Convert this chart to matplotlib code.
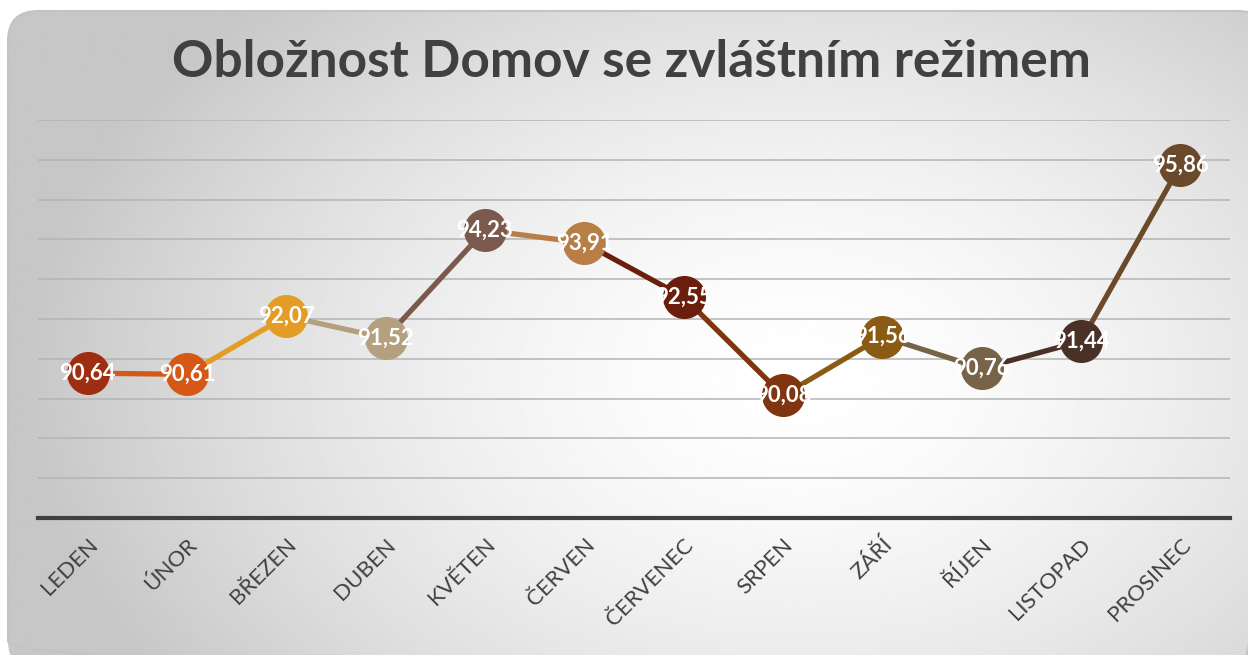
import numpy as np
import matplotlib
matplotlib.use("Agg")
import matplotlib.pyplot as plt
from matplotlib.patches import FancyBboxPatch

# data
months = ["LEDEN", "ÚNOR", "BŘEZEN", "DUBEN", "KVĚTEN", "ČERVEN",
          "ČERVENEC", "SRPEN", "ZÁŘÍ", "ŘÍJEN", "LISTOPAD", "PROSINEC"]
occupancy = [90.64, 90.61, 92.07, 91.52, 94.23, 93.91,
             92.55, 90.08, 91.56, 90.76, 91.44, 95.86]
point_colors = ["#9e2e12", "#d55816", "#e39c25", "#b4a07e", "#7b5a4d", "#b77e45",
                "#6a1e0b", "#7e3510", "#8b5a14", "#766348", "#4a3128", "#6a4a2a"]
title = "Obložnost Domov se zvláštním režimem"

plt.rcParams['font.family'] = ['Lato', 'DejaVu Sans']

fig = plt.figure(figsize=(12.48, 6.55), dpi=100)
fig.patch.set_facecolor("white")

# background panel: rounded box with radial gradient
bg = fig.add_axes([0, 0, 1, 1], zorder=-1)
bg.set_xlim(0, 1248)
bg.set_ylim(655, 0)
bg.axis("off")
gx, gy = np.meshgrid(np.linspace(0, 1248, 400), np.linspace(0, 655, 220))
r = np.sqrt(((gx - 800) / 820) ** 2 + ((gy - 380) / 560) ** 2)
shade = np.clip(1.0 - 0.24 * r ** 1.6, 0.78, 1.0)
img = bg.imshow(shade, cmap="gray", vmin=0, vmax=1, extent=(0, 1248, 655, 0),
                interpolation="bilinear", aspect="auto")
box = FancyBboxPatch((8, 11), 1260, 660, boxstyle="round,pad=0,rounding_size=30",
                     facecolor="none", edgecolor="none", transform=bg.transData)
bg.add_patch(box)
img.set_clip_path(box)
edge = FancyBboxPatch((8, 11), 1260, 660, boxstyle="round,pad=0,rounding_size=30",
                      facecolor="none", edgecolor="#c4c4c4", lw=1.5, transform=bg.transData)
bg.add_patch(edge)

ax = fig.add_axes([0.0304, 0.209, 0.9552, 0.608])
ax.set_facecolor("none")
x = np.arange(len(months))

# segments colored by their end point
for i in range(1, len(x)):
    ax.plot(x[i - 1:i + 1], occupancy[i - 1:i + 1], color=point_colors[i],
            lw=3.8, solid_capstyle="butt", zorder=2)
for i in range(len(x)):
    ax.plot(x[i], occupancy[i], "o", color=point_colors[i], markersize=31,
            markeredgewidth=0, zorder=3)
    ax.text(x[i], occupancy[i], f"{occupancy[i]:.2f}".replace(".", ","),
            color="white", fontsize=16, fontweight="bold",
            ha="center", va="center", zorder=4)

ax.set_xlim(-0.5, len(months) - 0.5)
ax.set_ylim(87, 97)
ax.set_yticks(np.arange(88, 98, 1))
ax.yaxis.grid(True, color="#b4b4b4", lw=1.1)
ax.set_axisbelow(True)
ax.tick_params(axis="y", left=False, labelleft=False)
ax.tick_params(axis="x", length=0, pad=12)
ax.set_xticks(x)
ax.set_xticklabels(months, rotation=45, ha="right", rotation_mode="anchor",
                   fontsize=16, color="#404040", fontweight="normal")
for s in ["top", "right", "left"]:
    ax.spines[s].set_visible(False)
ax.spines["bottom"].set_color("#404040")
ax.spines["bottom"].set_linewidth(3)

fig.text(0.506, 0.905, title, ha="center", va="center", fontsize=37,
         fontweight="bold", color="#404040")

fig.savefig("out.png", dpi=100)
